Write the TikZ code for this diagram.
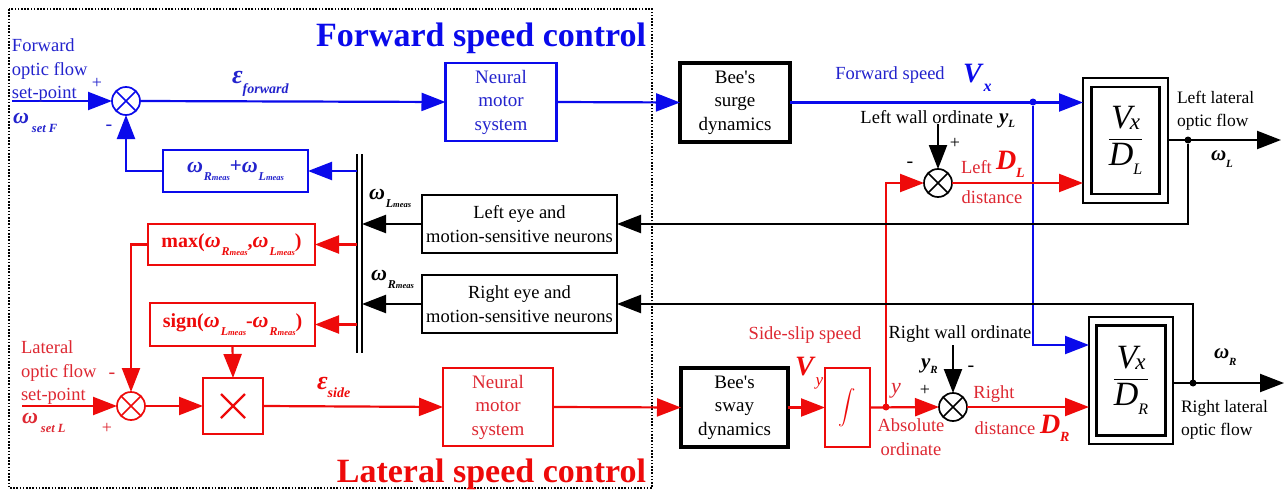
\documentclass[tikz,border=0pt]{standalone}
\usepackage{amsmath}
\usepackage{fontspec}
\setmainfont{Liberation Serif}
\usetikzlibrary{arrows.meta,calc}
\definecolor{cb}{RGB}{10,10,235}
\definecolor{cr}{RGB}{238,10,10}
\definecolor{tb}{RGB}{35,35,205}
\definecolor{tr}{RGB}{222,40,50}
\newcommand{\fs}[1]{\fontsize{#1}{#1}\selectfont}
\newcommand{\bi}[1]{\textbf{\textit{#1}}}
\newcommand{\lo}[2]{\raisebox{-#1}{\bfseries\itshape #2}}
\newcommand{\wmeas}[1]{{\fs{22}\bi{ω}}\kern1pt\lo{8pt}{\fs{12}#1\fs{8.5}meas}}
\begin{document}
\begin{tikzpicture}[x=1pt,y=-1pt,
  every node/.style={inner sep=0pt, outer sep=0pt, font=\fs{18}},
  arr/.style={-{Triangle[length=24pt,width=18pt]}, line width=2.2pt},
  box/.style={draw, line width=2.2pt},
  bee/.style={draw, line width=3.5pt, align=center, font={\fontsize{19}{23.5}\selectfont}},
  nms/.style={draw, line width=2.2pt, align=center, font={\fontsize{19}{23.5}\selectfont}},
  dbl/.style={draw, line width=2.5pt},
  sumc/.style={circle, draw=#1, line width=1.7pt, minimum size=28pt,
    path picture={\draw[#1, line width=1.7pt]
      (path picture bounding box.north west) -- (path picture bounding box.south east)
      (path picture bounding box.south west) -- (path picture bounding box.north east);}},
  dot/.style={circle, fill=#1, minimum size=7pt},
  lbl/.style={anchor=base west},
  multi/.style={align=left, font={\fontsize{18.5}{23.5}\selectfont}}
]
\useasboundingbox (0,0) rectangle (1287,495);
\fill[white] (0,0) rectangle (1287,495);

% dotted frame
\draw[line width=2pt, dash pattern=on 1.6pt off 1.6pt] (9,9) rectangle (652,488);

% titles
\node[anchor=base east, text=cb, font={\fs{34}\bfseries}] (tF) at (646,47) {Forward speed control};
\node[anchor=base east, text=cr, font={\fs{34}\bfseries}] (tL) at (646,482) {Lateral speed control};

% ---------- boxes ----------
\node[nms, draw=cb, text=tb, minimum width=111pt, minimum height=78pt] (NMf) at (501,102) {Neural\\motor\\system};
\node[bee, minimum width=110pt, minimum height=79pt] (BS) at (735,102.5) {Bee\textquotesingle s\\surge\\dynamics};
\node[nms, draw=cr, text=tr, minimum width=110pt, minimum height=78pt] (NMs) at (498,407) {Neural\\motor\\system};
\node[bee, minimum width=107pt, minimum height=79pt] (BW) at (734.5,407.5) {Bee\textquotesingle s\\sway\\dynamics};
\node[box, draw=cr, text=cr, minimum width=45pt, minimum height=79pt] (INT) at (847.5,407.5) {\fs{18}$\displaystyle\int$};

\node[box, draw=cb, text=tb, minimum width=145pt, minimum height=42pt] (FB) at (235.5,171)
  {\wmeas{R}{\fs{21}\textbf{+}}\wmeas{L}};
\node[box, draw=cr, text=cr, minimum width=167pt, minimum height=41pt] (MAX) at (231.5,244.5)
  {{\fs{20}\textbf{max(}}\wmeas{R}{\fs{20}\textbf{,}}\wmeas{L}{\fs{20}\textbf{)}}};
\node[box, draw=cr, text=cr, minimum width=165pt, minimum height=43pt] (SIGN) at (232.5,324.5)
  {{\fs{20}\textbf{sign(}}\wmeas{L}{\fs{20}\textbf{-}}\wmeas{R}{\fs{20}\textbf{)}}};
\node[box, draw=cr, minimum width=60pt, minimum height=56pt] (MUL) at (233,406) {};
\draw[cr, line width=2.2pt] ($(MUL.center)+(-12,-12)$) -- ($(MUL.center)+(12,12)$)
  ($(MUL.center)+(-12,12)$) -- ($(MUL.center)+(12,-12)$);

\node[box, align=center, font={\fontsize{18.5}{23.5}\selectfont}, minimum width=195pt, minimum height=58pt] (LE) at (519.5,224) {Left eye and\\motion-sensitive neurons};
\node[box, align=center, font={\fontsize{18.5}{23.5}\selectfont}, minimum width=195pt, minimum height=58pt] (RE) at (519.5,304) {Right eye and\\motion-sensitive neurons};

% double bar
\node[minimum width=5pt, minimum height=199pt] (bar) at (359.5,253.5) {};
\draw[line width=2pt] (bar.north west) -- (bar.south west) (bar.north east) -- (bar.south east);

% ratio boxes
\node[dbl, minimum width=85pt, minimum height=125pt] (LB) at (1125.5,140.5) {};
\node[dbl, minimum width=68pt, minimum height=107pt] (LBi) at (LB.center)
  {\fs{34}$\displaystyle\frac{\hbox{\itshape V\kern-2pt\raisebox{-1pt}{\fs{23}x}}}{\hbox{\itshape D\raisebox{-9pt}{\fs{16}L}}}$};
\node[dbl, minimum width=84pt, minimum height=127pt] (RB) at (1131,380.5) {};
\node[dbl, minimum width=69pt, minimum height=110pt] (RBi) at (RB.center)
  {\fs{34}$\displaystyle\frac{\hbox{\itshape V\kern-2pt\raisebox{-1pt}{\fs{23}x}}}{\hbox{\itshape D\raisebox{-9pt}{\fs{16}R}}}$};

% sums
\node[sumc=cb] (S1) at (126,101) {};
\node[sumc=cr] (S2) at (131,406) {};
\node[sumc=black] (S3) at (938,183) {};
\node[sumc=black] (S4) at (953,407) {};

% dots
\node[dot=cb] (d1) at (1033,102) {};
\node[dot=cr] (d2) at (886,407) {};
\node[dot=black] (d3) at (1188,140) {};
\node[dot=black] (d4) at (1193,383) {};

% free ends
\coordinate (inF) at (12,101);
\coordinate (inL) at (22,406);
\coordinate (wallL) at (938,124);
\coordinate (wallR) at (953,345);
\coordinate (outL) at (1281,140);
\coordinate (outR) at (1284,383);

% ---------- connectors ----------
\draw[arr, cb] (inF) -- (S1.west);
\draw[arr, cb] (S1.east) -- (NMf.west);
\draw[arr, cb] (NMf.east) -- (BS.west);
\draw[arr, cb] (BS.east) -- (BS.east -| LB.west);
\draw[arr, cb] (d1) |- ([yshift=35.5pt]RB.west);
\draw[arr, cb] (FB.east -| bar.west) -- (FB.east);
\draw[arr, cb] (FB.west) -| (S1.south);

\draw[arr, cr] (MAX.east -| bar.west) -- (MAX.east);
\draw[arr, cr] (SIGN.east -| bar.west) -- (SIGN.east);
\draw[arr, cr] (MAX.west) -| (S2.north);
\draw[arr, cr] (SIGN.south) -- (MUL.north);
\draw[arr, cr] (inL) -- (S2.west);
\draw[arr, cr] (S2.east) -- (MUL.west);
\draw[arr, cr] (MUL.east) -- (NMs.west);
\draw[arr, cr] (NMs.east) -- (BW.west);
\draw[arr, cr] (BW.east) -- (INT.west);
\draw[arr, cr] (INT.east) -- (S4.west);
\draw[arr, cr] (d2) |- (S3.west);
\draw[arr, cr] (S3.east) -- (S3.east -| LB.west);
\draw[arr, cr] (S4.east) -- (S4.east -| RB.west);

\draw[arr] (wallL) -- (S3.north);
\draw[arr] (wallR) -- (S4.north);
\draw[arr] (LE.west) -- (LE.west -| bar.east);
\draw[arr] (RE.west) -- (RE.west -| bar.east);
\draw[arr] (d3 -| LB.east) -- (outL);
\draw[arr] (d4 -| RB.east) -- (outR);
\draw[arr] (d3) |- (LE.east);
\draw[arr] (d4) |- (RE.east);

% ---------- labels ----------
\node[multi, text=tb, anchor=west] (lF) at (12,71) {Forward\\optic flow\\set-point};
\node[lbl, text=tb] (wF) at (13,123) {{\fs{22}\bi{ω}}\kern3pt\lo{9pt}{\fs{12.5}set F}};
\node[text=tb] (pF) at (97,83) {+};
\node[text=tb, font=\fs{20}] (mF) at (109,128) {-};
\node[lbl, text=tb] (eF) at (232,83) {{\fs{26}\bi{ε}}\lo{10pt}{\fs{14}forward}};

\node[multi, text=tr, anchor=west] (lL) at (21,373) {Lateral\\optic flow\\set-point};
\node[lbl, text=tr] (wL) at (22,423) {{\fs{22}\bi{ω}}\kern3pt\lo{9pt}{\fs{12.5}set L}};
\node[text=tr, font=\fs{20}] (mL) at (112,376) {-};
\node[text=tr] (pL) at (107,428) {+};
\node[lbl, text=cr] (eS) at (317,389) {{\fs{26}\bi{ε}}\lo{8pt}{\fs{14}side}};

\node[lbl] (wLm) at (369,199) {\wmeas{L}};
\node[lbl] (wRm) at (371,280) {\wmeas{R}};

\node[text=tb, font=\fs{18.5}] (fsp) at (890,75) {Forward speed};
\node[lbl, text=cb] (Vx) at (963,82) {{\fs{28}\bi{V}}\lo{9pt}{\fs{16}x}};
\node[anchor=base east, font=\fs{18.5}] (lwo) at (993,123) {Left wall ordinate};
\node[lbl] (yL) at (999,123) {{\fs{21}\bi{y}}\lo{4pt}{\fs{11}L}};
\node (pLw) at (955,143) {+};
\node[font=\fs{20}] (mLw) at (910,165) {-};
\node[lbl, text=tr, font=\fs{18.5}] (lft) at (961,173) {Left};
\node[lbl, text=cr] (DL) at (996,169) {{\fs{28}\bi{D}}\lo{8pt}{\fs{14}L}};
\node[text=tr, font=\fs{18.5}] (dstL) at (992,197) {distance};

\node[text=tr, font=\fs{18.5}] (ssp) at (805,335) {Side-slip speed};
\node[lbl, text=cr] (Vy) at (795,375) {{\fs{28}\bi{V}}\lo{10pt}{\fs{17}\mdseries y}};
\node[lbl, text=tr] (yy) at (891,393) {{\fs{22}\itshape y}};
\node[multi, align=center, text=tr] (abs) at (911,437) {Absolute\\ordinate};
\node[font=\fs{18.5}] (rwo) at (960,334) {Right wall ordinate};
\node[lbl] (yR) at (921,368) {{\fs{21}\bi{y}}\lo{5pt}{\fs{11}R}};
\node (pRw) at (925,390) {+};
\node[font=\fs{20}] (mRw) at (971,369) {-};
\node[text=tr, font=\fs{18.5}] (rgt) at (994,394) {Right};
\node[text=tr, font=\fs{18.5}] (dstR) at (1005,428) {distance};
\node[lbl, text=cr] (DR) at (1040,433) {{\fs{28}\bi{D}}\lo{8pt}{\fs{14}R}};

\node[multi, anchor=west, font={\fontsize{17.5}{23}\selectfont}] (llo) at (1177,111) {Left lateral\\optic flow};
\node[lbl] (wLo) at (1211,160) {{\fs{21}\bi{ω}}\lo{7pt}{\fs{11}L}};
\node[lbl] (wRo) at (1214,358) {{\fs{21}\bi{ω}}\lo{7pt}{\fs{11}R}};
\node[multi, anchor=west, font={\fontsize{17.5}{23}\selectfont}] (rlo) at (1181,420) {Right lateral\\optic flow};
\end{tikzpicture}
\end{document}
